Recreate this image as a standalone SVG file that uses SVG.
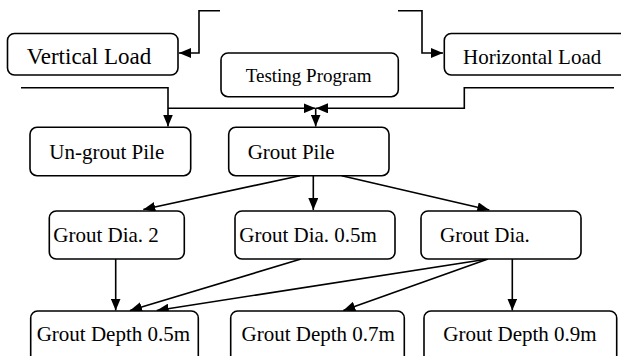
<svg xmlns="http://www.w3.org/2000/svg" width="621" height="356" viewBox="0 0 621 356">
<style>
.box{fill:#fff;stroke:#000;stroke-width:1.6}
.t{font-family:'Liberation Serif','Times New Roman','DejaVu Serif',serif;font-size:21px;fill:#000}
.c{fill:none;stroke:#000;stroke-width:1.6}
</style>
<defs>
<marker id="ah" markerWidth="12" markerHeight="10" refX="12" refY="5" orient="auto" markerUnits="userSpaceOnUse">
<path d="M0,0 L12,5 L0,10 Z" fill="#000"/>
</marker>
</defs>
<rect width="621" height="356" fill="#fff"/>
<g id="connectors">
<path class="c" d="M220,10.7 H199 V53 H179" marker-end="url(#ah)"/>
<path class="c" d="M398,10.7 H422 V53 H443" marker-end="url(#ah)"/>
<path class="c" d="M21,87.7 H168 V126.5" marker-end="url(#ah)"/>
<path class="c" d="M168,108.3 H315.5" marker-end="url(#ah)"/>
<path class="c" d="M614,87.7 H464.3 V108.3 H316" marker-end="url(#ah)"/>
<path class="c" d="M315.7,108.3 V126.5" marker-end="url(#ah)"/>
<path class="c" d="M300,175.7 L143.3,209.5" marker-end="url(#ah)"/>
<path class="c" d="M313.3,175.7 V210" marker-end="url(#ah)"/>
<path class="c" d="M341.7,175.7 L489.3,210" marker-end="url(#ah)"/>
<path class="c" d="M115.7,259 V310.5" marker-end="url(#ah)"/>
<path class="c" d="M301,259 L130,310.5" marker-end="url(#ah)"/>
<path class="c" d="M488,259 L156.7,310.5" marker-end="url(#ah)"/>
<path class="c" d="M488,259 L343.3,310.5" marker-end="url(#ah)"/>
<path class="c" d="M512.3,259 V310.5" marker-end="url(#ah)"/>
</g>
<g id="vertical-load">
<rect class="box" x="7.5" y="33.5" width="170.5" height="41.5" rx="7"/>
<text class="t" x="26.7" y="64" font-family="Liberation Serif, serif" style="font-size:23px">Vertical Load</text>
</g>
<g id="horizontal-load">
<rect class="box" x="444.3" y="33.5" width="190" height="41.5" rx="7"/>
<text class="t" x="463" y="64">Horizontal Load</text>
</g>
<g id="testing-program">
<rect class="box" x="221" y="53" width="177.3" height="43.7" rx="7"/>
<text class="t" x="245.7" y="81.7" style="font-size:19px">Testing Program</text>
</g>
<g id="ungrout-pile">
<rect class="box" x="30" y="127.3" width="160.7" height="48.4" rx="7"/>
<text class="t" x="49.3" y="159.3">Un-grout Pile</text>
</g>
<g id="grout-pile">
<rect class="box" x="228.7" y="127.3" width="160.3" height="48.4" rx="7"/>
<text class="t" x="247.7" y="159.3">Grout Pile</text>
</g>
<g id="grout-dia-2">
<rect class="box" x="49.3" y="211" width="135" height="48" rx="7"/>
<text class="t" x="53.3" y="241.7">Grout Dia. 2</text>
</g>
<g id="grout-dia-05">
<rect class="box" x="235" y="211" width="160" height="48" rx="7"/>
<text class="t" x="239.3" y="241.7">Grout Dia. 0.5m</text>
</g>
<g id="grout-dia">
<rect class="box" x="421" y="211" width="160" height="48" rx="7"/>
<text class="t" x="440" y="241.7">Grout Dia.</text>
</g>
<g id="grout-depth-05">
<rect class="box" x="30.7" y="311" width="167.6" height="52" rx="7"/>
<text class="t" x="36.7" y="341">Grout Depth 0.5m</text>
</g>
<g id="grout-depth-07">
<rect class="box" x="230.7" y="311" width="173.6" height="52" rx="7"/>
<text class="t" x="241.5" y="341">Grout Depth 0.7m</text>
</g>
<g id="grout-depth-09">
<rect class="box" x="424" y="311" width="192.7" height="52" rx="7"/>
<text class="t" x="443.3" y="341">Grout Depth 0.9m</text>
</g>
</svg>
